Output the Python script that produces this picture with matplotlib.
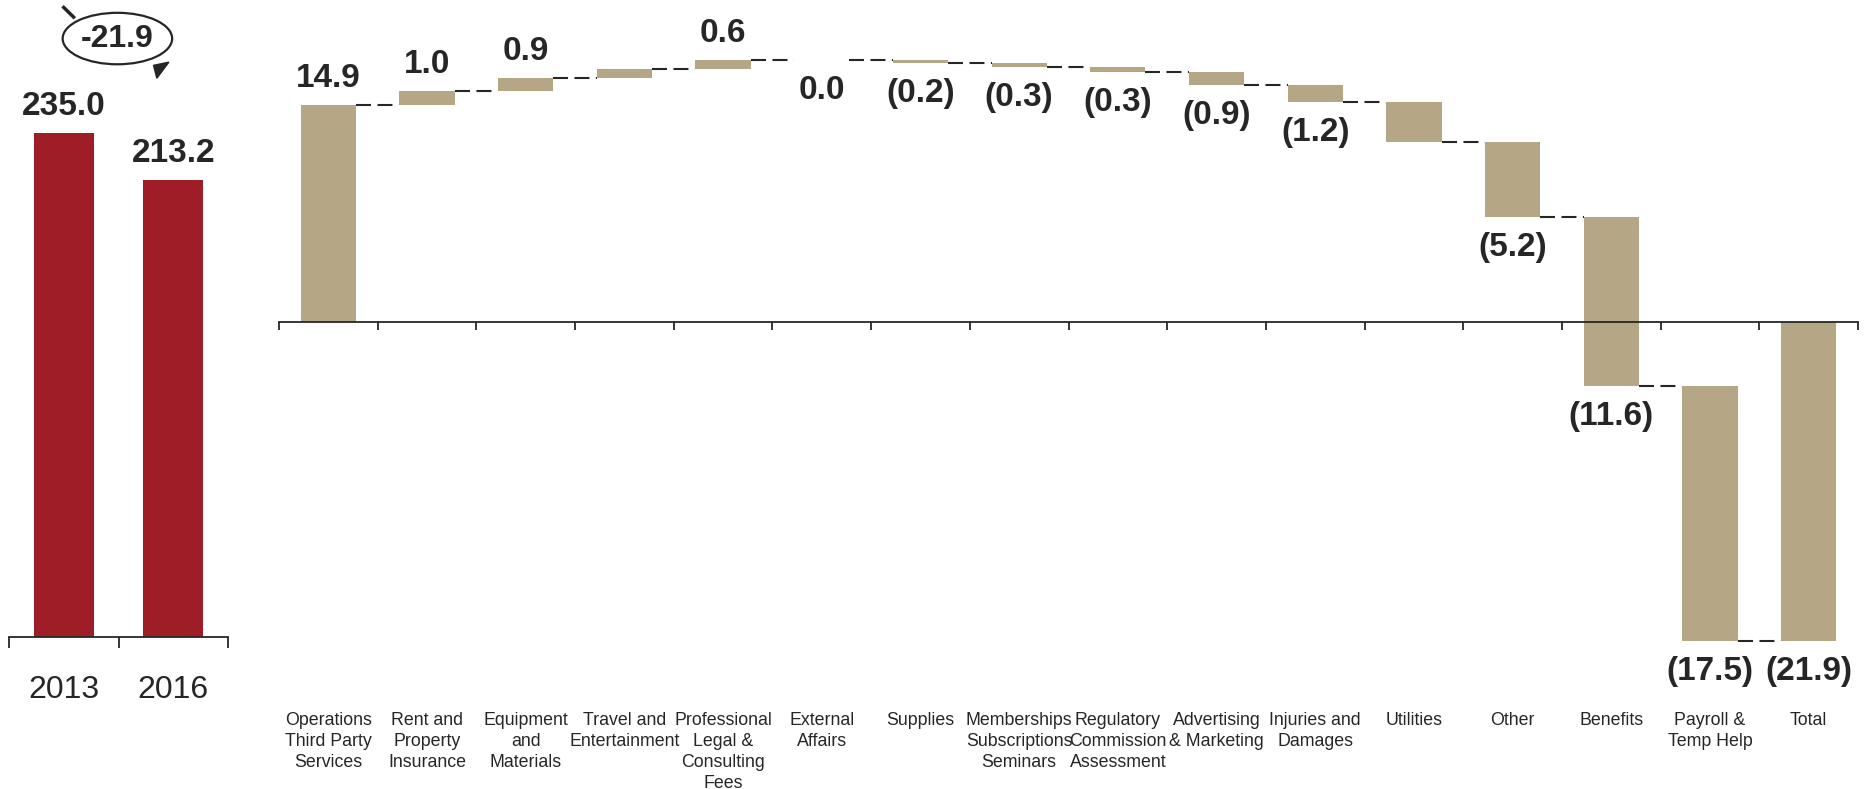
import numpy as np
import matplotlib.pyplot as plt
from matplotlib.patches import Ellipse, Polygon

# left panel: yearly totals
years = ['2013', '2016']
year_totals = [235.0, 213.2]

# right panel: waterfall of changes 2013 -> 2016
categories = ['Operations\nThird Party\nServices', 'Rent and\nProperty\nInsurance',
              'Equipment\nand\nMaterials', 'Travel and\nEntertainment',
              'Professional\nLegal &\nConsulting\nFees', 'External\nAffairs', 'Supplies',
              'Memberships\nSubscriptions\nSeminars', 'Regulatory\nCommission\nAssessment',
              'Advertising\n& Marketing', 'Injuries and\nDamages', 'Utilities', 'Other',
              'Benefits', 'Payroll &\nTemp Help', 'Total']
changes = [14.9, 1.0, 0.9, 0.6, 0.6, 0.0, -0.2, -0.3, -0.3, -0.9, -1.2, -2.7, -5.2, -11.6, -17.5]
# the source chart leaves two bars without a value label
show_label = [True, True, True, False, True, True, True, True, True, True, True, False,
              True, True, True, True]

RED = '#9E1D27'
TAN = '#B5A686'
DARK = '#262626'

plt.rcParams['font.family'] = ['Liberation Sans', 'DejaVu Sans']


def fmt(v):
    if v < 0:
        return '({:.1f})'.format(-v)
    return '{:.1f}'.format(v)


def main():
    fig = plt.figure(figsize=(18.72, 7.89), dpi=100)

    ch = np.array(changes)
    ends = np.cumsum(ch)
    starts = ends - ch
    total = ends[-1]

    # ---- left panel (2013 vs 2016) ----
    W, H = 1872.0, 789.0
    axl = fig.add_axes([9 / W, 0, 219 / W, 1])
    base_l = 637.0
    scale_l = 2.145
    axl.set_ylim(-(H - base_l) / scale_l, base_l / scale_l)
    axl.set_xlim(-0.5, 1.5)
    xl = np.arange(len(years))
    axl.bar(xl, year_totals, width=0.55, color=RED)
    for x, v in zip(xl, year_totals):
        axl.annotate(fmt(v), (x, v), xytext=(0, 19), textcoords='offset points',
                     ha='center', va='center', fontsize=24, fontweight='bold', color=DARK)
        axl.text(x, -24.5, years[x], ha='center', va='center', fontsize=23, color=DARK)
    for s in ['top', 'right', 'left']:
        axl.spines[s].set_visible(False)
    axl.spines['bottom'].set_position(('data', 0))
    axl.spines['bottom'].set_linewidth(1.3)
    axl.spines['bottom'].set_color(DARK)
    axl.set_yticks([])
    axl.set_xticks([-0.5, 0.5, 1.5])
    axl.set_xticklabels([])
    axl.tick_params(axis='x', length=8, width=1.3, color=DARK, direction='out')

    # change bubble above the bars (same as the waterfall total)
    cx, cy = 0.49, 279.0
    ew, eh = 1.0, 24.0
    axl.add_patch(Ellipse((cx, cy), ew, eh, fill=False, lw=1.6, edgecolor=DARK))
    axl.text(cx, cy, '{:.1f}'.format(total), ha='center', va='center',
             fontsize=23, fontweight='bold', color=DARK)
    axl.plot([cx - 0.49, cx - 0.40], [cy + 14.5, cy + 10.0], color=DARK, lw=2.5)
    axl.add_patch(Polygon([[cx + 0.33, cy - 12.5], [cx + 0.47, cy - 11.0],
                           [cx + 0.36, cy - 18.5]], closed=True, color=DARK))

    # ---- right panel (waterfall) ----
    axr = fig.add_axes([279 / W, 0, 1579 / W, 1])
    base_r = 322.0
    scale_r = 14.55
    axr.set_ylim(-(H - base_r) / scale_r, base_r / scale_r)
    axr.set_xlim(-0.5, len(categories) - 0.5)

    bottoms = list(starts) + [0.0]
    heights = list(ch) + [total]
    xr = np.arange(len(categories))
    bw = 0.56
    axr.bar(xr, heights, bottom=bottoms, width=bw, color=TAN)

    # dashed connectors between bars: two long dashes per gap
    levels = list(ends) + [total]
    for i in range(len(categories) - 1):
        axr.plot([i + bw / 2, i + 1 - bw / 2], [levels[i], levels[i]], color=DARK,
                 lw=1.5, ls=(0, (7.2, 3.1)))

    for i in range(len(categories)):
        if not show_label[i]:
            continue
        top = bottoms[i] + max(heights[i], 0)
        bot = bottoms[i] + min(heights[i], 0)
        if heights[i] > 0:
            axr.annotate(fmt(heights[i]), (i, top), xytext=(0, 19), textcoords='offset points',
                         ha='center', va='center', fontsize=24, fontweight='bold', color=DARK)
        else:
            axr.annotate(fmt(heights[i]), (i, bot), xytext=(0, -22), textcoords='offset points',
                         ha='center', va='center', fontsize=24, fontweight='bold', color=DARK)

    for i, c in enumerate(categories):
        axr.text(i, -26.8, c, ha='center', va='top', fontsize=12.8, color=DARK,
                 linespacing=1.3)

    for s in ['top', 'right', 'left']:
        axr.spines[s].set_visible(False)
    axr.spines['bottom'].set_position(('data', 0))
    axr.spines['bottom'].set_linewidth(1.3)
    axr.spines['bottom'].set_color(DARK)
    axr.set_yticks([])
    axr.set_xticks(np.arange(-0.5, len(categories), 1))
    axr.set_xticklabels([])
    axr.tick_params(axis='x', length=6, width=1.3, color=DARK, direction='out')

    fig.savefig('out.png', dpi=100)


main()
